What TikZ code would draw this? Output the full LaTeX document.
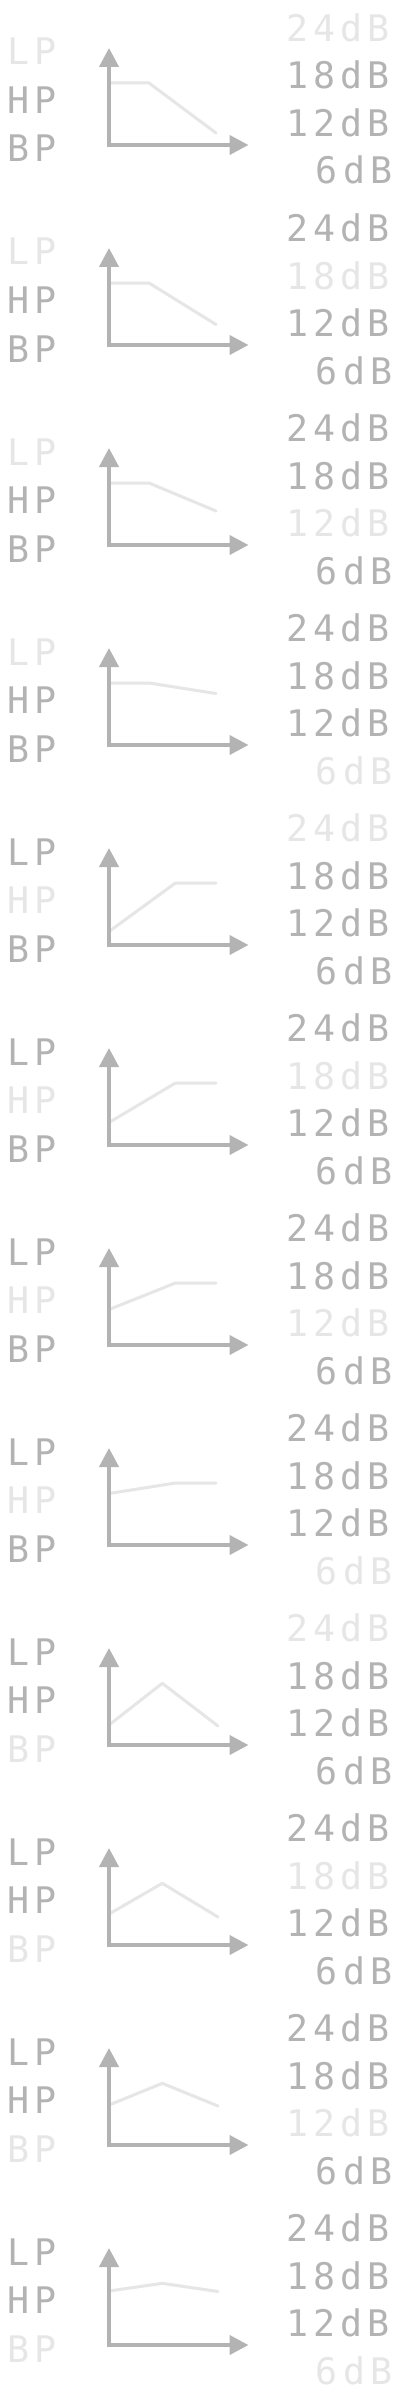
\documentclass[tikz,border=0pt]{standalone}
\usepackage{fontspec}
\usetikzlibrary{arrows.meta}
\newfontfamily\lblfont[LetterSpace=14]{DejaVu Sans Mono}
\definecolor{act}{RGB}{179,179,179}
\definecolor{inact}{RGB}{230,230,230}
\tikzset{
  lbl/.style={font={\lblfont\fontsize{36.6pt}{40pt}\selectfont}, inner sep=0pt},
  lefttxt/.style={lbl, anchor=base west},
  righttxt/.style={lbl, anchor=base east},
  axisline/.style={draw=act, line width=4pt, line join=miter,
    {Triangle[length=19pt,width=19pt]}-{Triangle[length=19pt,width=19pt]}},
  curveline/.style={draw=inact, line width=3pt, line cap=round, line join=round}
}
\begin{document}
\begin{tikzpicture}[x=1pt,y=-1pt]
\fill[white] (0,0) rectangle (400,2400);
\useasboundingbox (0,0) rectangle (400,2400);
\foreach \p/\t/\k/\ax/\ay/\bx/\by/\cx/\cy in {
0/0/0/109/83/149/83/216/133,
1/0/1/109/83/149/83/216/124.5,
2/0/2/109/83/149/83/216/111,
3/0/3/109/83/149/83/216/93.5,
4/1/0/109/131.5/175.5/83/216/83,
5/1/1/109/122.5/175.5/83/216/83,
6/1/2/109/109.5/175.5/83/216/83,
7/1/3/109/93.5/175.5/83/216/83,
8/2/0/109/125/162.3/83.3/218/126,
9/2/1/109/114/162.3/83.3/218/117,
10/2/2/109/105/162.3/83.3/218/106,
11/2/3/109/91/162.3/83.3/218/91.5}
{
  \ifnum\t=0 \def\cLP{inact}\else\def\cLP{act}\fi
  \ifnum\t=1 \def\cHP{inact}\else\def\cHP{act}\fi
  \ifnum\t=2 \def\cBP{inact}\else\def\cBP{act}\fi
  \ifnum\k=0 \def\cA{inact}\else\def\cA{act}\fi
  \ifnum\k=1 \def\cB{inact}\else\def\cB{act}\fi
  \ifnum\k=2 \def\cC{inact}\else\def\cC{act}\fi
  \ifnum\k=3 \def\cD{inact}\else\def\cD{act}\fi
  \begin{scope}[shift={(0,\p*200)}]
    % filter labels
    \node[lefttxt, text=\cLP] (lp\p) at (7.5,65) {LP};
    \node[lefttxt, text=\cHP] (hp\p) at (7.5,113.5) {HP};
    \node[lefttxt, text=\cBP] (bp\p) at (7.5,162) {BP};
    % slope labels
    \node[righttxt, text=\cA] (da\p) at (390,41.5) {24dB};
    \node[righttxt, text=\cB] (db\p) at (390,89) {18dB};
    \node[righttxt, text=\cC] (dc\p) at (390,136.5) {12dB};
    \node[righttxt, text=\cD] (dd\p) at (392.5,184) {6dB};
    % response curve
    \coordinate (ca\p) at (\ax,\ay);
    \coordinate (cb\p) at (\bx,\by);
    \coordinate (cc\p) at (\cx,\cy);
    \draw[curveline] (ca\p) -- (cb\p) -- (cc\p);
    % axes
    \coordinate (yt\p) at (109,48);
    \coordinate (or\p) at (109,145);
    \coordinate (xt\p) at (248.5,145);
    \draw[axisline] (yt\p) -- (or\p) -- (xt\p);
  \end{scope}
}
\end{tikzpicture}
\end{document}
